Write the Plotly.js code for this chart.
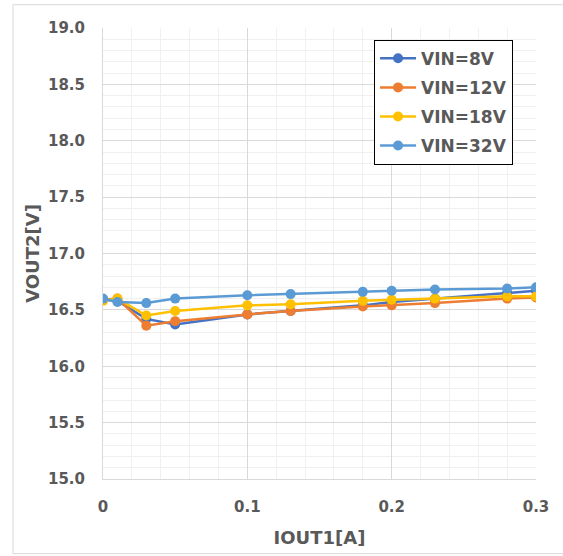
<!DOCTYPE html>
<html>
<head>
<meta charset="utf-8">
<script src="https://cdn.plot.ly/plotly-3.0.1.min.js"></script>
<style>
html,body{margin:0;padding:0;background:#fff;}
#chart{width:563px;height:556px;}
</style>
</head>
<body>
<div id="chart"></div>
<script>
const iout = [0, 0.01, 0.03, 0.05, 0.1, 0.13, 0.18, 0.2, 0.23, 0.28, 0.3];
const vin8  = [16.59, 16.58, 16.42, 16.37, 16.46, 16.49, 16.54, 16.57, 16.60, 16.65, 16.67];
const vin12 = [16.59, 16.60, 16.36, 16.40, 16.46, 16.49, 16.53, 16.54, 16.56, 16.60, 16.61];
const vin18 = [16.58, 16.60, 16.45, 16.49, 16.54, 16.55, 16.58, 16.59, 16.60, 16.62, 16.62];
const vin32 = [16.60, 16.57, 16.56, 16.60, 16.63, 16.64, 16.66, 16.67, 16.68, 16.69, 16.70];
const names = ['VIN=8V', 'VIN=12V', 'VIN=18V', 'VIN=32V'];
const colors = ['#4472C4', '#ED7D31', '#FFC000', '#5B9BD5'];
const series = [vin8, vin12, vin18, vin32];

const traces = series.map((ys, i) => ({
  x: iout, y: ys, name: names[i], type: 'scatter', mode: 'lines+markers',
  line: {color: colors[i], width: 2.5},
  marker: {color: colors[i], size: 10},
  legendgroup: 'g' + i
}));

const fontFam = '"DejaVu Sans", Verdana, sans-serif';
const txt = '#595959';

const layout = {
  width: 563, height: 556,
  margin: {l: 103, r: 27, t: 28, b: 77},
  paper_bgcolor: '#fff', plot_bgcolor: '#fff',
  font: {family: fontFam, color: txt},
  showlegend: true,
  legend: {
    x: 0.626, y: 0.974, xanchor: 'left', yanchor: 'top',
    bordercolor: '#000', borderwidth: 1, bgcolor: '#fff',
    font: {family: fontFam, size: 17, color: txt, weight: 'bold'},
    traceorder: 'grouped', tracegroupgap: 4, itemwidth: 36
  },
  xaxis: {
    range: [0, 0.3], dtick: 0.1, tick0: 0,
    showgrid: true, gridcolor: '#d9d9d9', gridwidth: 1,
    minor: {dtick: 0.02, showgrid: true, gridcolor: '#f0f0f0', gridwidth: 1},
    zeroline: false, showline: true, linecolor: '#d9d9d9', linewidth: 1,
    ticks: '', ticklabelstandoff: 14,
    tickfont: {family: fontFam, size: 15, color: txt, weight: 'bold'},
    title: {text: 'IOUT1[A]', standoff: 16, font: {family: fontFam, size: 18, color: txt, weight: 'bold'}}
  },
  yaxis: {
    range: [15, 19], dtick: 0.5, tick0: 15, tickformat: '.1f',
    showgrid: true, gridcolor: '#d9d9d9', gridwidth: 1,
    minor: {dtick: 0.1, showgrid: true, gridcolor: '#f0f0f0', gridwidth: 1},
    zeroline: false, showline: true, linecolor: '#d9d9d9', linewidth: 1,
    ticks: '', ticklabelstandoff: 14,
    tickfont: {family: fontFam, size: 15, color: txt, weight: 'bold'},
    title: {text: 'VOUT2[V]', standoff: 3, font: {family: fontFam, size: 18, color: txt, weight: 'bold'}}
  },
  shapes: [{
    type: 'rect', xref: 'paper', yref: 'paper',
    x0: -0.2079, x1: 1.07, y0: -0.1656, y1: 1.0517,
    line: {color: '#d9d9d9', width: 1}, fillcolor: 'rgba(0,0,0,0)', layer: 'below'
  }]
};

Plotly.newPlot('chart', traces, layout, {displayModeBar: false, staticPlot: true});
</script>
</body>
</html>
